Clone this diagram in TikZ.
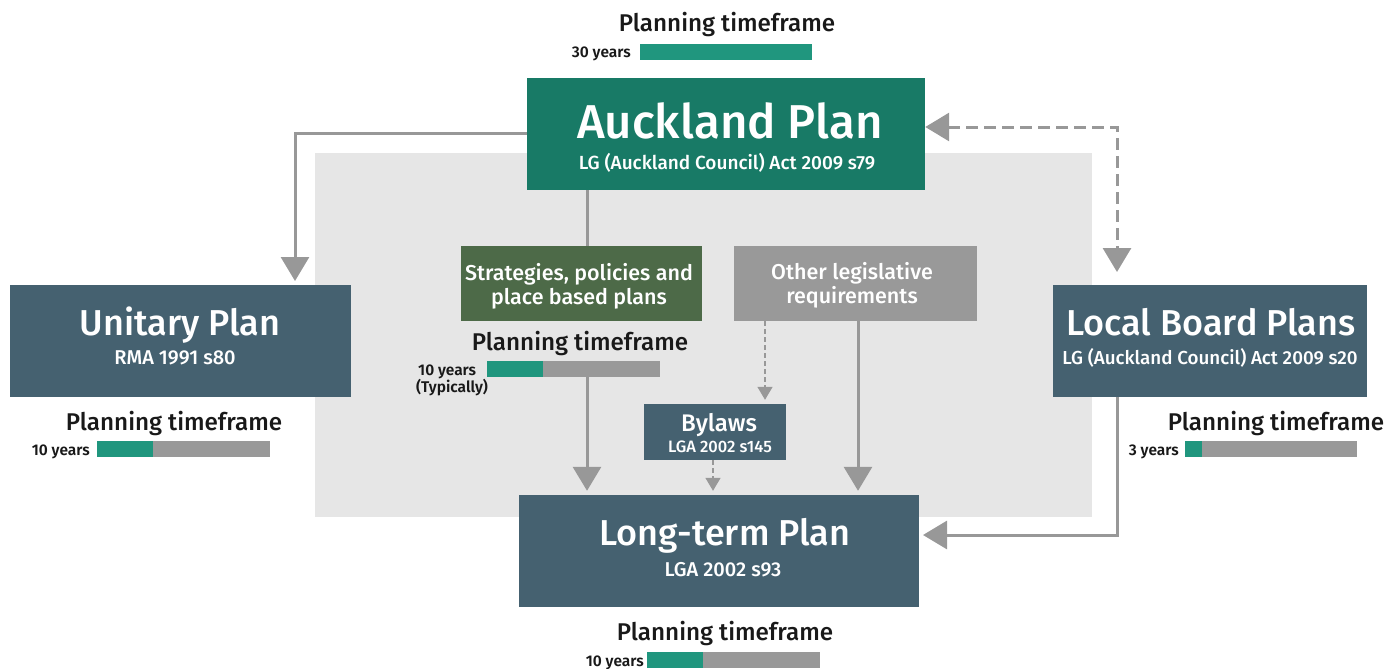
\documentclass[tikz,border=0pt]{standalone}
\usepackage{fontspec}
\setmainfont{Fira Sans Medium}[BoldFont={Fira Sans SemiBold}]
\usetikzlibrary{arrows.meta}
\definecolor{aktteal}{RGB}{24,122,102}
\definecolor{barteal}{RGB}{32,150,126}
\definecolor{slate}{RGB}{69,97,112}
\definecolor{stratgreen}{RGB}{77,106,72}
\definecolor{othergrey}{RGB}{153,153,153}
\definecolor{bggrey}{RGB}{230,230,230}
\definecolor{linegrey}{RGB}{152,152,152}
\definecolor{tfblack}{RGB}{25,25,25}

\newcommand{\bigtitle}{\fontsize{47.5}{50}\selectfont}
\newcommand{\midtitle}{\fontsize{36}{38}\selectfont}
\newcommand{\subtitle}{\fontsize{19}{21}\selectfont}
\newcommand{\numtitle}{\fontsize{20}{22}\selectfont}
\newcommand{\tfbar}[4]{% x, y, teal length, total length
  \fill[othergrey] (#1,#2) rectangle ++(#4,16);
  \fill[barteal] (#1,#2) rectangle ++(#3,16);}

\tikzset{
  planbox/.style={inner sep=0pt},
  boxtext/.style={inner sep=0pt, text=white, anchor=base},
  flow/.style={line width=3pt, linegrey, -{Triangle[width=28pt,length=24pt]}, shorten >=4pt},
  thinflow/.style={line width=1.5pt, linegrey, dash pattern=on 5pt off 3pt, -{Triangle[width=15pt,length=13pt]}, shorten >=4pt},
  dashflow/.style={line width=3pt, linegrey, dash pattern=on 12pt off 6pt,
    {Triangle[width=28pt,length=24pt]}-{Triangle[width=28pt,length=24pt]}, shorten >=13pt},
  tftitle/.style={font=\fontsize{24.2}{25}\selectfont, text=tfblack, inner sep=0pt, anchor=base},
  tflabel/.style={font=\fontsize{15.5}{16}\selectfont\bfseries, text=tfblack, inner sep=0pt, anchor=base east},
}

\begin{document}
\begin{tikzpicture}[x=1pt,y=-1pt]
  \useasboundingbox (0,0) rectangle (1400,669);
  \fill[bggrey] (315,153) rectangle (1092,517);

  % plan boxes
  \node[planbox, fill=aktteal, minimum width=398pt, minimum height=112pt] (ap) at (726,134) {};
  \node[boxtext, font=\bigtitle] (aptitle) at (730,138) {Auckland Plan};
  \node[boxtext, font=\subtitle] (apsub) at (727,169) {LG (Auckland Council) Act 2009 s79};
  \node[planbox, fill=slate, minimum width=341pt, minimum height=112pt] (up) at (180.5,341) {};
  \node[boxtext, font=\midtitle] (uptitle) at (180,335) {Unitary Plan};
  \node[boxtext, font=\numtitle] (upsub) at (175,364) {RMA 1991 s80};
  \node[planbox, fill=slate, minimum width=314pt, minimum height=112pt] (lb) at (1210,341) {};
  \node[boxtext, font=\midtitle] (lbtitle) at (1211,335) {Local Board Plans};
  \node[boxtext, font=\fontsize{18.8}{20}\selectfont] (lbsub) at (1210,364) {LG (Auckland Council) Act 2009 s20};
  \node[planbox, fill=slate, minimum width=400pt, minimum height=112pt] (lt) at (719,551) {};
  \node[boxtext, font=\midtitle] (lttitle) at (725,545) {Long-term Plan};
  \node[boxtext, font=\numtitle] (ltsub) at (723,576) {LGA 2002 s93};
  \node[planbox, fill=stratgreen, minimum width=241pt, minimum height=75pt] (sp) at (581.5,283.5) {};
  \node[boxtext, font=\fontsize{21.5}{24}\selectfont] (sptop) at (579,280) {Strategies, policies and};
  \node[boxtext, font=\fontsize{21.5}{24}\selectfont] (spbot) at (579,304) {place based plans};
  \node[planbox, fill=othergrey, minimum width=243pt, minimum height=75pt] (ol) at (855.5,283.5) {};
  \node[boxtext, font=\fontsize{21.5}{24}\selectfont] (oltop) at (852,279) {Other legislative};
  \node[boxtext, font=\fontsize{21.5}{24}\selectfont] (olbot) at (852,303) {requirements};
  \node[planbox, fill=slate, minimum width=142pt, minimum height=56pt] (by) at (715,432) {};
  \node[boxtext, font=\fontsize{24}{26}\selectfont] (bytitle) at (719,431) {Bylaws};
  \node[boxtext, font=\fontsize{16.5}{18}\selectfont] (bysub) at (720,452) {LGA 2002 s145};

  % planning timeframes
  \node[tftitle] (aptf) at (727,32) {Planning timeframe};
  \node[tflabel] (apyr) at (631,58) {30 years};
  \tfbar{640}{44}{172}{172}
  \node[tftitle] (uptf) at (174,430) {Planning timeframe};
  \node[tflabel] (upyr) at (90,455) {10 years};
  \tfbar{97}{441}{56}{173}
  \node[tftitle] (sptf) at (580,350) {Planning timeframe};
  \node[tflabel, anchor=base west] (spyr) at (418,375) {10 years};
  \node[tflabel, anchor=base west] (sptyp) at (416,392) {(Typically)};
  \tfbar{487}{361}{56}{173}
  \node[tftitle] (lbtf) at (1276,430) {Planning timeframe};
  \node[tflabel] (lbyr) at (1179,455) {3 years};
  \tfbar{1185}{441}{17}{172}
  \node[tftitle] (lttf) at (725,640) {Planning timeframe};
  \node[tflabel] (ltyr) at (644,666) {10 years};
  \tfbar{647}{652}{56}{173}

  % connectors
  \coordinate (upin) at (295,285);
  \coordinate (spbar) at (587,377);
  \coordinate (lbout) at (1117,397);
  \coordinate (ltin) at (919,535);
  \coordinate (lbin) at (1117,285);
  \draw[flow] (ap.west |- 0,133) -| (upin);
  \draw[line width=3pt, linegrey] (ap.south -| spbar) -- (sp.north -| spbar);
  \draw[flow] (spbar) -- (lt.north -| spbar);
  \draw[flow] (ol.south -| 858,0) -- (lt.north -| 858,0);
  \draw[thinflow] (ol.south -| 765,0) -- (by.north -| 765,0);
  \draw[thinflow] (by.south -| 713,0) -- (lt.north -| 713,0);
  \draw[flow] (lbout) |- (ltin);
  \draw[dashflow] (ap.east |- 0,127) -| (lbin);
\end{tikzpicture}
\end{document}
